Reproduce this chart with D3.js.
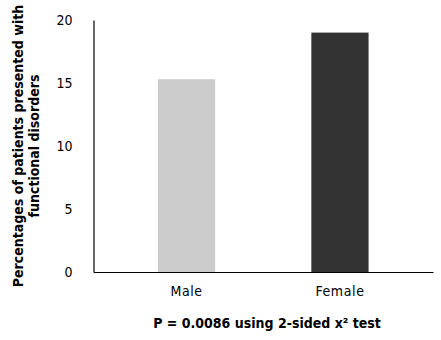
<!DOCTYPE html>
<html>
<head>
<meta charset="utf-8">
<script src="https://cdn.jsdelivr.net/npm/d3@7"></script>
<style>
  html, body { margin: 0; padding: 0; background: #fff; }
  svg text { font-family: "Liberation Sans Narrow", "DejaVu Sans Condensed", "Arial Narrow", sans-serif; }
</style>
</head>
<body>
<svg id="chart" width="441" height="340"></svg>
<script>
// Share of patients presenting with functional disorders, by sex
const categories = ["Male", "Female"];
const percentages = [15.3, 19.0];
const barColors = ["#cccccc", "#333333"];
const yTicks = [0, 5, 10, 15, 20];
const yTitleLines = ["Percentages of patients presented with", "functional disorders"];
const xTitle = "P = 0.0086 using 2-sided x\u00B2 test";

const svg = d3.select("#chart");
const margin = { left: 93.5, right: 8, top: 20, bottom: 68 };
const W = 441, H = 340;

const x = d3.scaleBand()
  .domain(categories)
  .range([margin.left, W - margin.right])
  .paddingInner(0.627)
  .paddingOuter(0.42);

const y = d3.scaleLinear()
  .domain([0, 20])
  .range([H - margin.bottom, margin.top]);

// bars
svg.append("g").selectAll("rect")
  .data(categories)
  .join("rect")
  .attr("x", d => x(d))
  .attr("width", x.bandwidth())
  .attr("y", (d, i) => y(percentages[i]))
  .attr("height", (d, i) => y(0) - y(percentages[i]))
  .attr("fill", (d, i) => barColors[i]);

// y axis: line only, labels without tick marks
const yAxis = svg.append("g")
  .attr("transform", `translate(${margin.left},0)`)
  .call(d3.axisLeft(y).tickValues(yTicks).tickSize(0).tickPadding(21));
yAxis.select(".domain").attr("stroke", "#000").attr("stroke-width", 1.2);
yAxis.selectAll("text").attr("font-size", 14).attr("fill", "#000");

// x axis
const xAxis = svg.append("g")
  .attr("transform", `translate(0,${y(0)})`)
  .call(d3.axisBottom(x).tickSize(0).tickPadding(14));
xAxis.select(".domain").attr("stroke", "#000").attr("stroke-width", 1.2);
xAxis.selectAll("text").attr("font-size", 14).attr("fill", "#000").attr("letter-spacing", 0.6);

// y axis title
const yTitle = svg.append("text")
  .attr("transform", `translate(23,${(margin.top + y(0)) / 2}) rotate(-90)`)
  .attr("text-anchor", "middle")
  .attr("font-size", 14)
  .attr("font-weight", "bold")
  .attr("fill", "#000");
yTitle.selectAll("tspan")
  .data(yTitleLines)
  .join("tspan")
  .attr("x", 0)
  .attr("dy", (d, i) => i === 0 ? 0 : 16)
  .text(d => d);

// x axis title
svg.append("text")
  .attr("x", 267)
  .attr("y", 328)
  .attr("text-anchor", "middle")
  .attr("font-size", 14)
  .attr("font-weight", "bold")
  .attr("fill", "#000")
  .text(xTitle);
</script>
</body>
</html>
